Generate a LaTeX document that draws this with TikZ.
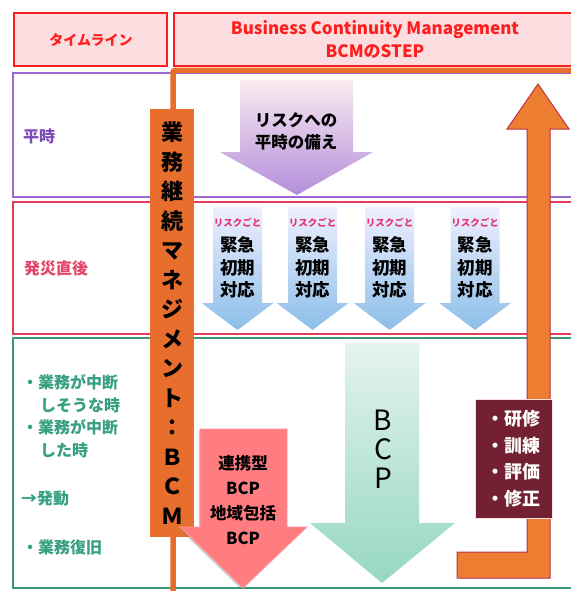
\documentclass[tikz,border=0pt]{standalone}
\usepackage{fontspec}
\newfontfamily\jpfont{Noto Sans CJK JP}
\usetikzlibrary{shadows}
\definecolor{tlred}{RGB}{255,30,30}
\definecolor{tlpink}{RGB}{252,222,224}
\definecolor{calmpurple}{RGB}{155,105,208}
\definecolor{calmtext}{RGB}{125,75,185}
\definecolor{quakered}{RGB}{225,60,90}
\definecolor{quaketext}{RGB}{228,70,105}
\definecolor{opsgreen}{RGB}{60,150,120}
\definecolor{opstext}{RGB}{55,160,130}
\definecolor{bcmorange}{RGB}{232,110,45}
\definecolor{looporange}{RGB}{237,125,49}
\definecolor{loopred}{RGB}{190,50,70}
\definecolor{trainmaroon}{RGB}{114,32,50}
\definecolor{bcppink}{RGB}{255,124,128}
\definecolor{riskpink}{RGB}{230,50,110}
\tikzset{
	headbox/.style={draw=tlred, fill=tlpink, line width=1.5pt},
	rowbox/.style={fill=white, line width=2.5pt},
	headtext/.style={font=\jpfont\bfseries\fontsize{15}{23}\selectfont, text=tlred, align=center, inner sep=0pt},
	rowtext/.style={font=\jpfont\bfseries\fontsize{16}{20}\selectfont, inner sep=0pt},
	opstext/.style={rowtext, text=opstext, anchor=west},
	arrowtext/.style={font=\jpfont\bfseries\fontsize{17}{24.7}\selectfont, align=center, inner sep=0pt},
	bcmbox/.style={fill=bcmorange, minimum width=44pt, minimum height=428pt, inner sep=0pt, align=center, font=\jpfont\bfseries\fontsize{22}{29.5}\selectfont},
	trainbox/.style={fill=trainmaroon, draw=tlpink, line width=0.8pt, minimum width=77pt, minimum height=119pt, align=center, text=white, font=\jpfont\bfseries\fontsize{18}{26.7}\selectfont}
}

\begin{document}
\begin{tikzpicture}[x=1pt, y=-1pt]
		\useasboundingbox (0,0) rectangle (570,591);
		
		%Bands
		\draw[headbox] (14,13) rectangle (167,66);
		\draw[headbox] (174,13) rectangle (585,66);
		\draw[rowbox, draw=calmpurple] (13,73) rectangle (585,197);
		\draw[rowbox, draw=quakered] (13,202) rectangle (585,334);
		\draw[rowbox, draw=opsgreen] (13,338) rectangle (585,588);
		\draw[bcmorange, line width=5.5pt, rounded corners=2pt] (173,595) -- (173,70.5) -- (585,70.5);
		
		%Arrows
		\shade[top color=purple!8!white, bottom color=calmpurple!75!white] (240,80) -- (353,80) -- (353,152) -- (373,152) -- (297,195) -- (220,152) -- (240,152) -- cycle;
		\foreach \cx/\i in {237.5/1, 312.5/2, 389.5/3, 475/4}{
			\shade[top color=blue!6!white, bottom color={rgb,255:red,140;green,190;blue,232}] (\cx-24.5,207) -- (\cx+24.5,207) -- (\cx+24.5,303) -- (\cx+36,303) -- (\cx,330) -- (\cx-36,303) -- (\cx-24.5,303) -- cycle;
			\node[font=\jpfont\bfseries\fontsize{9.5}{10}\selectfont, text=riskpink, inner sep=0pt] at (\cx,223) (risk\i) {リスクごと};
			\node[arrowtext, font=\jpfont\bfseries\fontsize{17.5}{22.5}\selectfont] at (\cx,267.5) (first\i) {緊急\\初期\\対応};
		}
		\shade[top color={rgb,255:red,228;green,243;blue,238}, bottom color={rgb,255:red,150;green,215;blue,195}] (345,343) -- (419,343) -- (419,523) -- (455,523) -- (382,583) -- (310,523) -- (345,523) -- cycle;
		\draw[fill=looporange, draw=loopred, line width=1pt] (457,552) -- (527,552) -- (527,129) -- (507,129) -- (538,84) -- (569,129) -- (550,129) -- (550,578) -- (457,578) -- cycle;
		
		%Boxes
		\node[trainbox] at (513.5,458.5) (train) {・研修\\・訓練\\・評価\\・修正};
		\node[bcmbox] at (172,323) (bcm) {業\\務\\継\\続\\マ\\ネ\\ジ\\メ\\ン\\ト\\：\\Ｂ\\Ｃ\\Ｍ};
		\draw[fill=bcppink, draw=bcppink!80!white, line width=0.8pt, drop shadow={shadow xshift=-1.5pt, shadow yshift=-1.5pt, opacity=0.35}] (200,429) -- (287,429) -- (287,527) -- (307,527) -- (243,588) -- (180,527) -- (200,527) -- cycle;
		
		%Texts
		\node[headtext, font=\jpfont\bfseries\fontsize{14}{23}\selectfont] at (91,40) (timeline) {タイムライン};
		\node[headtext, font=\jpfont\bfseries\fontsize{17}{23}\selectfont] at (375,39) (steps) {Business Continuity Management\\BCMのSTEP};
		\node[rowtext, text=calmtext] at (39,136) (calm) {平時};
		\node[rowtext, text=quaketext] at (56,268) (quake) {発災直後};
		\node[opstext] at (22,382) (stop1) {・業務が中断};
		\node[opstext] at (40,405) (stop1b) {しそうな時};
		\node[opstext] at (22,427) (stop2) {・業務が中断};
		\node[opstext] at (40,450) (stop2b) {した時};
		\node[opstext] at (21,498) (start) {→発動};
		\node[opstext] at (22,547) (recover) {・業務復旧};
		\node[arrowtext, font=\jpfont\bfseries\fontsize{16.5}{22}\selectfont] at (296,131) (prep) {リスクへの\\平時の備え};
		\node[arrowtext, font=\jpfont\fontsize{28}{29}\selectfont] at (383,449) (bcp) {B\\C\\P};
		\node[arrowtext, font=\jpfont\bfseries\fontsize{16.5}{24.7}\selectfont] at (243,500) (joint) {連携型\\BCP\\地域包括\\BCP};
	\end{tikzpicture}
\end{document}
